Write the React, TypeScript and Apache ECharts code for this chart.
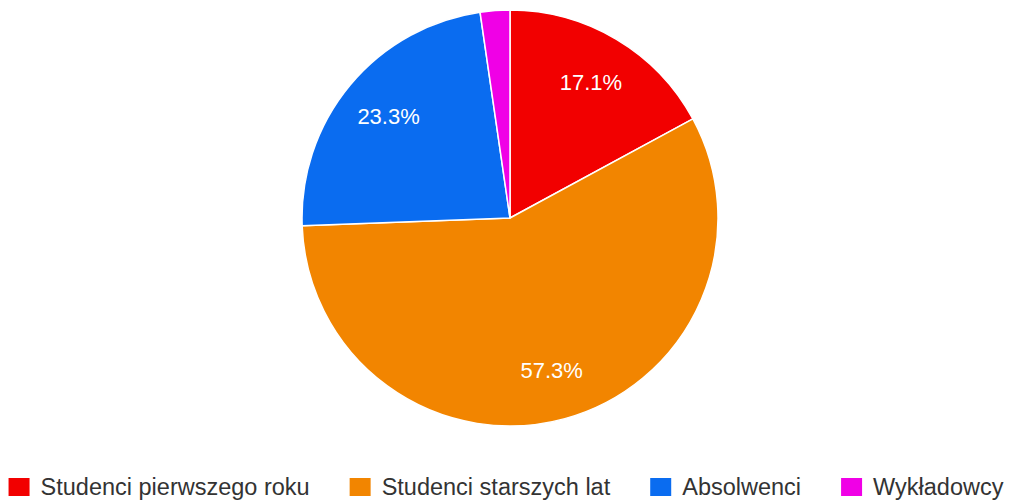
import React, { useEffect, useRef } from "react";
import * as echarts from "echarts";

const categories = ["Studenci pierwszego roku", "Studenci starszych lat", "Absolwenci", "Wykładowcy"];
const values = [17.1, 57.3, 23.3, 2.3];
const colors = ["#f20000", "#f28500", "#0a6cf0", "#f000e6"];
const labelMin = 5;

export default function App() {
  const ref = useRef<HTMLDivElement>(null);
  useEffect(() => {
    document.body.style.margin = "0";
    const chart = echarts.init(ref.current!, null, { renderer: "svg" });
    const data = categories.map((name, i) => ({ name, value: values[i], itemStyle: { color: colors[i] } }));
    chart.setOption({
      animation: false,
      legend: {
        bottom: 3,
        left: "center",
        padding: 0,
        itemWidth: 23,
        itemHeight: 20,
        itemGap: 38,
        icon: "rect",
        textStyle: {
          fontFamily: "Liberation Sans, Arial, sans-serif",
          fontSize: 23.5,
          color: "#333",
          padding: [0, 0, 0, 5],
        },
        data: categories,
      },
      series: [
        {
          type: "pie",
          center: [510, 218],
          radius: [0, 208],
          startAngle: 90,
          clockwise: true,
          silent: true,
          label: { show: false },
          labelLine: { show: false },
          itemStyle: { borderColor: "#ffffff", borderWidth: 1.5 },
          data,
        },
        {
          type: "pie",
          center: [510, 218],
          radius: [102, 208],
          startAngle: 90,
          clockwise: true,
          silent: true,
          legendHoverLink: false,
          itemStyle: { color: "transparent", borderWidth: 0 },
          labelLine: { show: false },
          label: {
            show: true,
            position: "inside",
            fontFamily: "Liberation Sans, Arial, sans-serif",
            fontSize: 22,
            color: "#ffffff",
            formatter: (p: any) => (p.value >= labelMin ? p.value.toFixed(1) + "%" : ""),
          },
          data: categories.map((name, i) => ({ name: name + " ", value: values[i] })),
        },
      ],
    });
    return () => chart.dispose();
  }, []);
  return <div ref={ref} style={{ width: 1010, height: 502 }} />;
}
